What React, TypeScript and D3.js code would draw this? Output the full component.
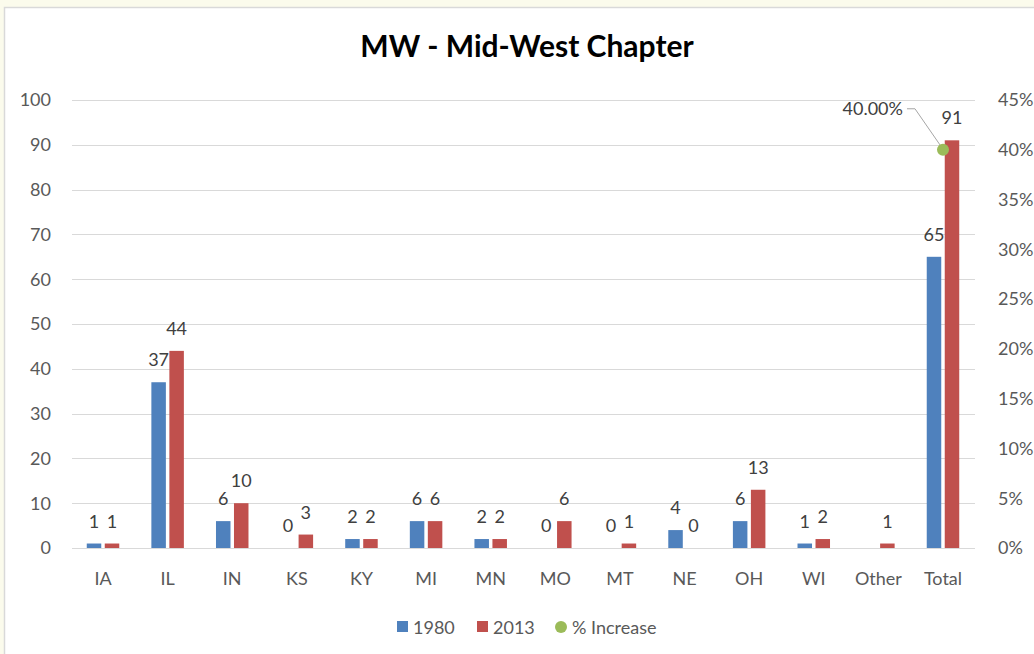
import * as d3 from 'd3';
import React from 'react';

const categories = ['IA', 'IL', 'IN', 'KS', 'KY', 'MI', 'MN', 'MO', 'MT', 'NE', 'OH', 'WI', 'Other', 'Total'];
const series = ['1980', '2013'];
const values1980 = [1, 37, 6, 0, 2, 6, 2, 0, 0, 4, 6, 1, null, 65];
const values2013 = [1, 44, 10, 3, 2, 6, 2, 6, 1, 0, 13, 2, 1, 91];
const pctIncrease = [null, null, null, null, null, null, null, null, null, null, null, null, null, 0.4];
const leftTicks = [0, 10, 20, 30, 40, 50, 60, 70, 80, 90, 100];
const rightTicks = [0, 0.05, 0.1, 0.15, 0.2, 0.25, 0.3, 0.35, 0.4, 0.45];

const W = 1034;
const H = 654;
const FONT = "Lato, 'Open Sans', sans-serif";
const colors = { '1980': '#4f81bd', '2013': '#c0504d', pct: '#9bbb59' };

export default function App() {
  const x = d3.scaleBand().domain(categories).range([70.7, 975.3]);
  const y = d3.scaleLinear().domain([0, 100]).range([548, 100]);
  const yPct = d3.scaleLinear().domain([0, 0.45]).range([548, 100]);
  const sub = d3.scaleBand().domain(series).range([0, 32.5]).paddingInner(0.194);
  const bw = sub.bandwidth();
  const groupLeft = (c: string) => (x(c) as number) + x.bandwidth() / 2 - 16.25;
  const cx = (c: string) => (x(c) as number) + x.bandwidth() / 2;
  const fmtPct = d3.format('.0%');

  const bars: any[] = [];
  categories.forEach((c, i) => {
    [values1980[i], values2013[i]].forEach((v, s) => {
      if (v === null) return;
      bars.push({ c, s: series[s], v });
    });
  });

  return (
    <div style={{ position: 'absolute', left: 0, top: 0 }}>
      <svg width={W} height={H} style={{ display: 'block', fontFamily: FONT }}>
        <rect x={0} y={0} width={W} height={H} fill="#fbfbec" />
        <rect x={4.5} y={7.5} width={W} height={H} fill="#ffffff" stroke="#d9d9d9" strokeWidth={1.5} />

        <text x={527} y={57} textAnchor="middle" fontSize={30} fontWeight="bold" fill="#000">
          MW - Mid-West Chapter
        </text>

        {leftTicks.map(t => (
          <g key={'g' + t}>
            <line x1={72} x2={975} y1={Math.round(y(t)) + 0.5} y2={Math.round(y(t)) + 0.5} stroke="#d9d9d9" strokeWidth={1} />
            <text x={51} y={y(t)} dy="0.35em" textAnchor="end" fontSize={18} fill="#595959">{t}</text>
          </g>
        ))}
        {rightTicks.map(t => (
          <text key={'r' + t} x={998} y={yPct(t)} dy="0.35em" fontSize={18} fill="#595959">{fmtPct(t)}</text>
        ))}

        {bars.map(b => (
          <rect key={b.c + b.s} x={groupLeft(b.c) + (sub(b.s) as number)} y={y(b.v)} width={bw}
            height={y(0) - y(b.v)} fill={colors[b.s as '1980' | '2013']} />
        ))}
        {bars.map(b => (
          <text key={'l' + b.c + b.s} x={groupLeft(b.c) + (sub(b.s) as number) + bw / 2} y={y(b.v) - 16}
            textAnchor="middle" fontSize={18} fill="#404040">{b.v}</text>
        ))}

        {categories.map(c => (
          <text key={'c' + c} x={cx(c)} y={585} textAnchor="middle" fontSize={18} fill="#595959">{c}</text>
        ))}

        {categories.map((c, i) => {
          const p = pctIncrease[i];
          if (p === null) return null;
          const px = cx(c);
          const py = yPct(p);
          return (
            <g key={'p' + c}>
              <polyline points={`${px - 1},${py - 2} ${px - 28},${py - 41} ${px - 36},${py - 41}`} fill="none" stroke="#a6a6a6" strokeWidth={1} />
              <circle cx={px} cy={py} r={6} fill={colors.pct} />
              <text x={px - 40} y={py - 35} textAnchor="end" fontSize={18} fill="#404040">{d3.format('.2%')(p)}</text>
            </g>
          );
        })}

        <g fontSize={18} fill="#595959">
          <rect x={397} y={621} width={11} height={11} fill={colors['1980']} />
          <text x={413} y={634}>1980</text>
          <rect x={477} y={621} width={11} height={11} fill={colors['2013']} />
          <text x={493} y={634}>2013</text>
          <circle cx={561} cy={627} r={6} fill={colors.pct} />
          <text x={572} y={634}>% Increase</text>
        </g>
      </svg>
    </div>
  );
}
